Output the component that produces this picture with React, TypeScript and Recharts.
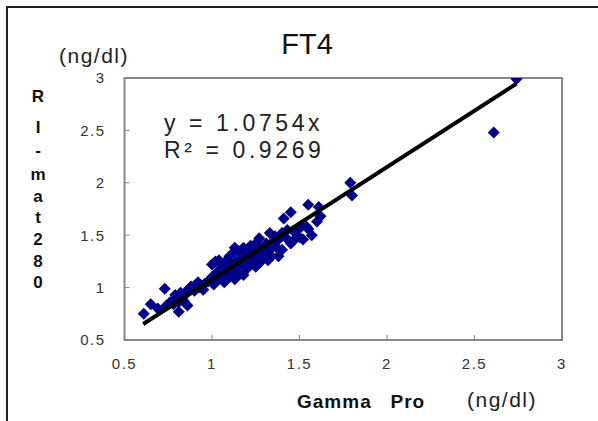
import React from 'react';
import { ScatterChart, Scatter, XAxis, YAxis, ReferenceArea } from 'recharts';

const xTicks = [0.5, 1, 1.5, 2, 2.5, 3];
const yTicks = [0.5, 1, 1.5, 2, 2.5, 3];

const gammaPro = [
  0.61, 0.65, 0.69, 0.73, 0.74, 0.76, 0.79, 0.79, 0.81, 0.81, 0.82, 0.83, 0.85, 0.86, 0.87, 0.88, 0.9, 0.93,
  0.96, 0.98, 1.0, 1.01, 1.02, 1.03, 1.04, 1.05, 1.06, 1.06, 1.07, 1.08, 1.09, 1.09, 1.1, 1.1, 1.11, 1.12,
  1.12, 1.13, 1.14, 1.15, 1.15, 1.16, 1.17, 1.18, 1.18, 1.19, 1.2, 1.2, 1.21, 1.22, 1.22, 1.23, 1.24, 1.25,
  1.25, 1.26, 1.27, 1.27, 1.28, 1.29, 1.3,
  1.31, 1.33, 1.33, 1.34, 1.35, 1.36, 1.37, 1.38, 1.4, 1.4, 1.41, 1.42, 1.43, 1.45, 1.46, 1.47, 1.48, 1.51,
  1.52, 1.54, 1.55, 1.55, 1.57, 1.6, 1.61, 1.62, 1.79, 1.8, 2.61, 2.74,
  1.0, 1.04, 1.13, 1.18, 1.25, 1.32, 1.38, 1.45, 1.5, 0.92, 0.95, 0.84, 0.78,
];
const riMat280 = [
  0.75, 0.84, 0.8, 0.99, 0.83, 0.86, 0.93, 0.89, 0.77, 0.86, 0.95, 0.9, 0.96, 0.83, 0.99, 1.01, 0.97, 1.0,
  1.04, 1.06, 1.1, 1.03, 1.25, 1.15, 1.08, 1.18, 1.22, 1.12, 1.05, 1.2, 1.27, 1.14, 1.1, 1.3, 1.22, 1.17,
  1.33, 1.08, 1.25, 1.2, 1.35, 1.13, 1.28, 1.22, 1.38, 1.31, 1.18, 1.26, 1.35, 1.4, 1.3, 1.24, 1.37, 1.32,
  1.42, 1.28, 1.35, 1.47, 1.25, 1.38, 1.32,
  1.42, 1.52, 1.36, 1.3, 1.44, 1.49, 1.38, 1.46, 1.36, 1.52, 1.66, 1.48, 1.55, 1.72, 1.44, 1.53, 1.55, 1.58,
  1.46, 1.58, 1.56, 1.79, 1.5, 1.63, 1.77, 1.68, 2.0, 1.88, 2.48, 2.99,
  1.22, 1.26, 1.38, 1.12, 1.2, 1.26, 1.3, 1.42, 1.48, 1.05, 0.98, 0.87, 0.84,
];

const slope = 1.0754;
const rSquared = 0.9269;
const fitRange = [0.607, 2.74];

const points = gammaPro.map((x, i) => ({ x, y: riMat280[i] }));
const fitLine = fitRange.map((x) => ({ x, y: slope * x }));

const yLabelLetters = ['R', 'I', '-', 'm', 'a', 't', '2', '8', '0'];
const yLabelTops = [97, 128, 151, 175, 197, 218, 240, 262, 283];

const Diamond = (props: any) => {
  const { cx, cy } = props;
  if (cx == null || cy == null) return <g />;
  const r = 6;
  return (
    <polygon
      points={`${cx},${cy - r} ${cx + r},${cy} ${cx},${cy + r} ${cx - r},${cy}`}
      fill="#000088"
    />
  );
};

const tickFont = { fontSize: 15, fill: '#333', fontFamily: 'Liberation Sans, Arial, sans-serif', letterSpacing: 1.5 };

export default function App() {
  return (
    <div style={{ position: 'absolute', left: 0, top: 0, width: 598, height: 421, overflow: 'hidden', background: '#fff', fontFamily: 'Liberation Sans, Arial, sans-serif' }}>
      <div style={{ position: 'absolute', left: 6, top: 6, width: 800, height: 800, borderLeft: '2px solid #222', borderTop: '2px solid #222' }} />
      <ScatterChart width={598} height={421} margin={{ top: 78, right: 36, bottom: 51, left: 84.5 }}>
        <XAxis
          type="number"
          dataKey="x"
          domain={[0.5, 3]}
          ticks={xTicks}
          allowDataOverflow
          axisLine={false}
          tickSize={-5}
          tickMargin={23}
          tickLine={{ stroke: '#888', strokeWidth: 1 }}
          tick={tickFont}
          height={30}
        />
        <YAxis
          type="number"
          dataKey="y"
          domain={[0.5, 3]}
          ticks={yTicks}
          allowDataOverflow
          axisLine={false}
          tickSize={-5}
          tickMargin={24}
          tickLine={{ stroke: '#888', strokeWidth: 1 }}
          tick={tickFont}
          width={40}
        />
        <ReferenceArea x1={0.5} x2={3} y1={0.5} y2={3} fill="none" fillOpacity={0} stroke="#888" strokeWidth={2} ifOverflow="visible" />
        <Scatter data={points} shape={Diamond} isAnimationActive={false} />
        <Scatter data={fitLine} line={{ stroke: '#000', strokeWidth: 4 }} shape={() => <g />} isAnimationActive={false} />
      </ScatterChart>
      <div style={{ position: 'absolute', left: 250, top: 27, width: 114, textAlign: 'center', fontSize: 29, color: '#111', lineHeight: '34px' }}>FT4</div>
      <div style={{ position: 'absolute', left: 59, top: 44, fontSize: 21, letterSpacing: 1.5, color: '#222', lineHeight: '24px' }}>(ng/dl)</div>
      <div style={{ position: 'absolute', left: 164, top: 110, fontSize: 23, letterSpacing: 3.6, color: '#222', lineHeight: '27px' }}>
        {`y = ${slope}x`}
      </div>
      <div style={{ position: 'absolute', left: 164, top: 137, fontSize: 23, letterSpacing: 3.6, color: '#222', lineHeight: '27px' }}>
        R² = {rSquared}
      </div>
      {yLabelLetters.map((ch, i) => (
        <div key={i} style={{ position: 'absolute', left: 26, width: 24, textAlign: 'center', top: yLabelTops[i] - 11, fontSize: 17, fontWeight: 'bold', color: '#111', lineHeight: '22px' }}>
          {ch}
        </div>
      ))}
      <div style={{ position: 'absolute', left: 297, top: 391, fontSize: 19, fontWeight: 'bold', letterSpacing: 1, color: '#111', lineHeight: '22px', whiteSpace: 'pre' }}>
        Gamma   Pro
      </div>
      <div style={{ position: 'absolute', left: 467, top: 388, fontSize: 21, letterSpacing: 1.5, color: '#222', lineHeight: '24px' }}>(ng/dl)</div>
    </div>
  );
}
